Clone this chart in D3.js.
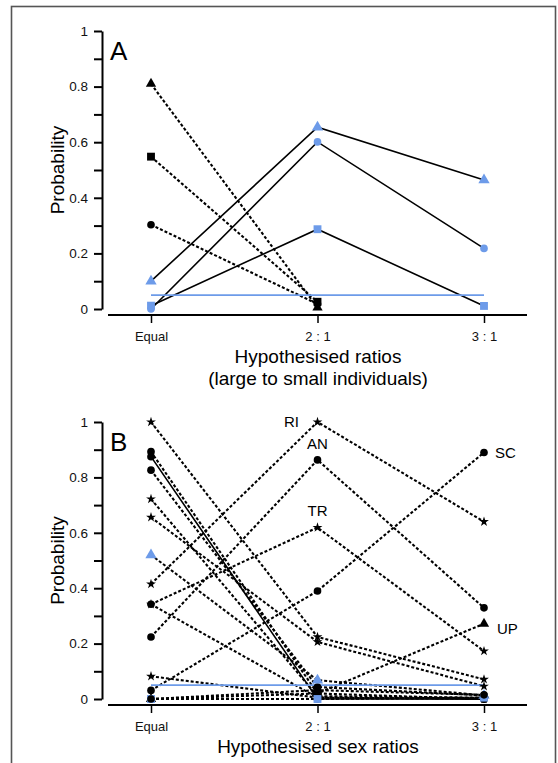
<!DOCTYPE html>
<html>
<head>
<meta charset="utf-8">
<script src="https://cdn.jsdelivr.net/npm/d3@7"></script>
<style>
  html, body { margin: 0; padding: 0; background: #fff; }
  svg { display: block; font-family: "Liberation Sans", Arial, sans-serif; }
</style>
</head>
<body>
<svg id="chart" width="558" height="763"></svg>
<script>
// Categories on the x axis of each panel
const ratiosA = ["Equal", "2 : 1", "3 : 1"];
const ratiosB = ["Equal", "2 : 1", "3 : 1"];

// Y ticks (minor every 0.1, labelled every 0.2)
const yTicks = [0, 0.1, 0.2, 0.3, 0.4, 0.5, 0.6, 0.7, 0.8, 0.9, 1];
const yTickLabels = ["0", "", "0.2", "", "0.4", "", "0.6", "", "0.8", "", "1"];

// Significance threshold line
const threshold = 0.05;

// Panel A: probability by hypothesised size ratio
const aNames   = ["blackTri", "blackSq", "blackCirc", "blueTri", "blueCirc", "blueSq"];
const aValues  = [
  [0.81, 0.005, null],
  [0.548, 0.026, null],
  [0.303, 0.018, null],
  [0.10, 0.654, 0.464],
  [0.0, 0.601, 0.218],
  [0.012, 0.287, 0.011]
];
const aShapes  = ["triangle", "square", "circle", "triangle", "circle", "square"];
const aColours = ["black", "black", "black", "blue", "blue", "blue"];
const aStyles  = ["dotted", "dotted", "dotted", "solid", "solid", "solid"];

// Panel B: probability by hypothesised sex ratio
const bNames = ["RI", "AN", "TR", "SC", "UP", "s1", "s2", "s3", "c1", "c2", "c3", "c4", "bt", "s4", "bs", "c5"];
const bValues = [
  [0.415, 1.0, 0.64],
  [0.224, 0.863, 0.329],
  [0.342, 0.619, 0.173],
  [0.031, 0.39, 0.89],
  [0.0, 0.02, 0.272],
  [1.0, 0.224, 0.071],
  [0.656, 0.206, 0.046],
  [0.722, 0.01, 0.005],
  [0.893, 0.02, 0.0],
  [0.875, 0.0, 0.0],
  [0.826, 0.043, 0.013],
  [0.342, 0.005, 0.0],
  [0.52, 0.068, 0.013],
  [0.082, 0.005, 0.0],
  [0.0, 0.0, 0.005],
  [0.0, 0.032, 0.015]
];
const bShapes  = ["star", "circle", "star", "circle", "triangle", "star", "star", "star", "circle", "circle", "circle", "circle", "triangle", "star", "square", "circle"];
const bColours = ["black", "black", "black", "black", "black", "black", "black", "black", "black", "black", "black", "black", "blue", "black", "blue", "black"];
const bStyles  = ["dotted", "dotted", "dotted", "dotted", "dotted", "dotted", "dotted", "dotted", "dotted", "solid", "dotted", "dotted", "dotted", "dotted", "dotted", "dotted"];
// Named series get a text tag beside one of their points
const bTags = [
  { name: "RI", at: 1, dx: -26, dy: 5, anchor: "middle" },
  { name: "AN", at: 1, dx: 0, dy: -11, anchor: "middle" },
  { name: "TR", at: 1, dx: 0, dy: -12, anchor: "middle" },
  { name: "SC", at: 2, dx: 11, dy: 6, anchor: "start" },
  { name: "UP", at: 2, dx: 13, dy: 10, anchor: "start" }
];

const BLUE = "#6d9be9";
const colourOf = c => c === "blue" ? BLUE : "#000";
const symbolOf = { circle: d3.symbolCircle, square: d3.symbolSquare, triangle: d3.symbolTriangle, star: d3.symbolStar };
const sizeOf = { circle: 46, square: 62, triangle: 46, star: 30 };

const svg = d3.select("#chart");

// Outer frame
svg.append("rect")
  .attr("x", 11.5).attr("y", 6.5).attr("width", 544).attr("height", 800)
  .attr("fill", "none").attr("stroke", "#555").attr("stroke-width", 1.6);

function panel(opts) {
  const g = svg.append("g");
  const x = d3.scalePoint().domain(opts.cats).range([151, 484]);
  const y = d3.scaleLinear().domain([0, 1]).range([opts.y0, opts.y1]);

  // y axis
  const yAxis = d3.axisLeft(y)
    .tickValues(yTicks)
    .tickFormat((d, i) => yTickLabels[i])
    .tickSize(8).tickSizeOuter(0).tickPadding(6);
  const ya = g.append("g").attr("transform", "translate(102,0)").call(yAxis);
  ya.select(".domain").attr("stroke-width", 2);
  ya.selectAll(".tick line").attr("stroke-width", 2);
  ya.selectAll("text").attr("font-size", 13.5).attr("fill", "#111");

  // x axis
  const axY = opts.y0 + 6;
  const xAxis = d3.axisBottom(x).tickSize(8).tickSizeOuter(0).tickPadding(9);
  const xa = g.append("g").attr("transform", `translate(0,${axY})`).call(xAxis);
  xa.select(".domain").remove();
  xa.append("line").attr("x1", 108).attr("x2", 527).attr("y1", 0).attr("y2", 0)
    .attr("stroke", "#000").attr("stroke-width", 2);
  xa.selectAll(".tick line").attr("stroke-width", 1.5);
  xa.selectAll("text").attr("font-size", 13).attr("fill", "#111");

  // titles
  g.append("text").attr("transform", `translate(64,${(opts.y0 + opts.y1) / 2}) rotate(-90)`)
    .attr("text-anchor", "middle").attr("font-size", 19).text("Probability");
  opts.xTitle.forEach((t, i) => {
    g.append("text").attr("x", 318).attr("y", opts.y0 + 54 + i * 22)
      .attr("text-anchor", "middle").attr("font-size", 19).text(t);
  });
  g.append("text").attr("x", 110).attr("y", opts.y1 + 29)
    .attr("font-size", 26).text(opts.letter);

  const line = d3.line()
    .defined(d => d[1] != null)
    .x(d => x(d[0])).y(d => y(d[1]));

  // connecting lines
  opts.values.forEach((vals, i) => {
    const pts = vals.map((v, j) => [opts.cats[j], v]);
    g.append("path").attr("d", line(pts)).attr("fill", "none")
      .attr("stroke", "#000")
      .attr("stroke-width", opts.styles[i] === "solid" ? 1.6 : 2.1)
      .attr("stroke-dasharray", opts.styles[i] === "solid" ? null : "3,2");
  });

  // threshold
  g.append("line")
    .attr("x1", x(opts.cats[0])).attr("x2", x(opts.cats[2]))
    .attr("y1", y(threshold)).attr("y2", y(threshold))
    .attr("stroke", BLUE).attr("stroke-width", 1.6);

  // markers
  opts.values.forEach((vals, i) => {
    vals.forEach((v, j) => {
      if (v == null) return;
      const shape = opts.shapes[i];
      g.append("path")
        .attr("d", d3.symbol(symbolOf[shape], sizeOf[shape] * (opts.colours[i] === "blue" && shape === "triangle" ? 1.2 : 1))())
        .attr("transform", `translate(${x(opts.cats[j])},${y(v)})`)
        .attr("fill", colourOf(opts.colours[i]));
    });
  });

  // series tags
  (opts.tags || []).forEach(t => {
    const i = opts.names.indexOf(t.name);
    const v = opts.values[i][t.at];
    g.append("text")
      .attr("x", x(opts.cats[t.at]) + t.dx).attr("y", y(v) + t.dy)
      .attr("text-anchor", t.anchor).attr("font-size", 15).text(t.name);
  });
}

panel({
  cats: ratiosA, y0: 309, y1: 31, letter: "A",
  xTitle: ["Hypothesised ratios", "(large to small individuals)"],
  names: aNames, values: aValues, shapes: aShapes, colours: aColours, styles: aStyles
});

panel({
  cats: ratiosB, y0: 699, y1: 422, letter: "B",
  xTitle: ["Hypothesised sex ratios"],
  names: bNames, values: bValues, shapes: bShapes, colours: bColours, styles: bStyles,
  tags: bTags
});
</script>
</body>
</html>
